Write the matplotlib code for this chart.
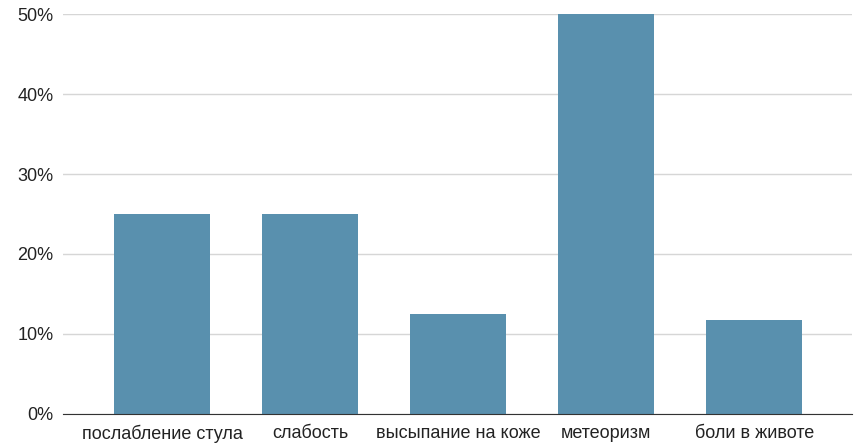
import numpy as np
import matplotlib.pyplot as plt
from matplotlib.ticker import FuncFormatter

categories = ["послабление стула", "слабость", "высыпание на коже", "метеоризм", "боли в животе"]
values = [25, 25, 12.5, 50, 11.8]
yticks = [0, 10, 20, 30, 40, 50]

plt.rcParams['font.family'] = ['Liberation Sans', 'DejaVu Sans']

fig = plt.figure(figsize=(8.57, 4.45), dpi=100)
ax = fig.add_axes([0.0735, 0.0697, 0.9205, 0.8988])

x = np.arange(len(categories))
ax.bar(x, values, width=0.65, color='#5990ae', zorder=3)

ax.set_xlim(-0.67, 4.66)
ax.set_ylim(0, 50)
ax.set_yticks(yticks)
ax.yaxis.set_major_formatter(FuncFormatter(lambda v, p: f"{v:.0f}%"))
ax.set_xticks(x)
ax.set_xticklabels(categories)
ax.tick_params(axis='both', length=0, labelsize=13, colors='#222222')
ax.tick_params(axis='y', pad=7)
ax.tick_params(axis='x', pad=8)
ax.grid(axis='y', color='#d6d6d6', linewidth=1, zorder=0)

for s in ['top', 'right', 'left']:
    ax.spines[s].set_visible(False)
ax.spines['bottom'].set_color('#333333')
ax.spines['bottom'].set_zorder(4)

fig.savefig("out.png", dpi=100)
